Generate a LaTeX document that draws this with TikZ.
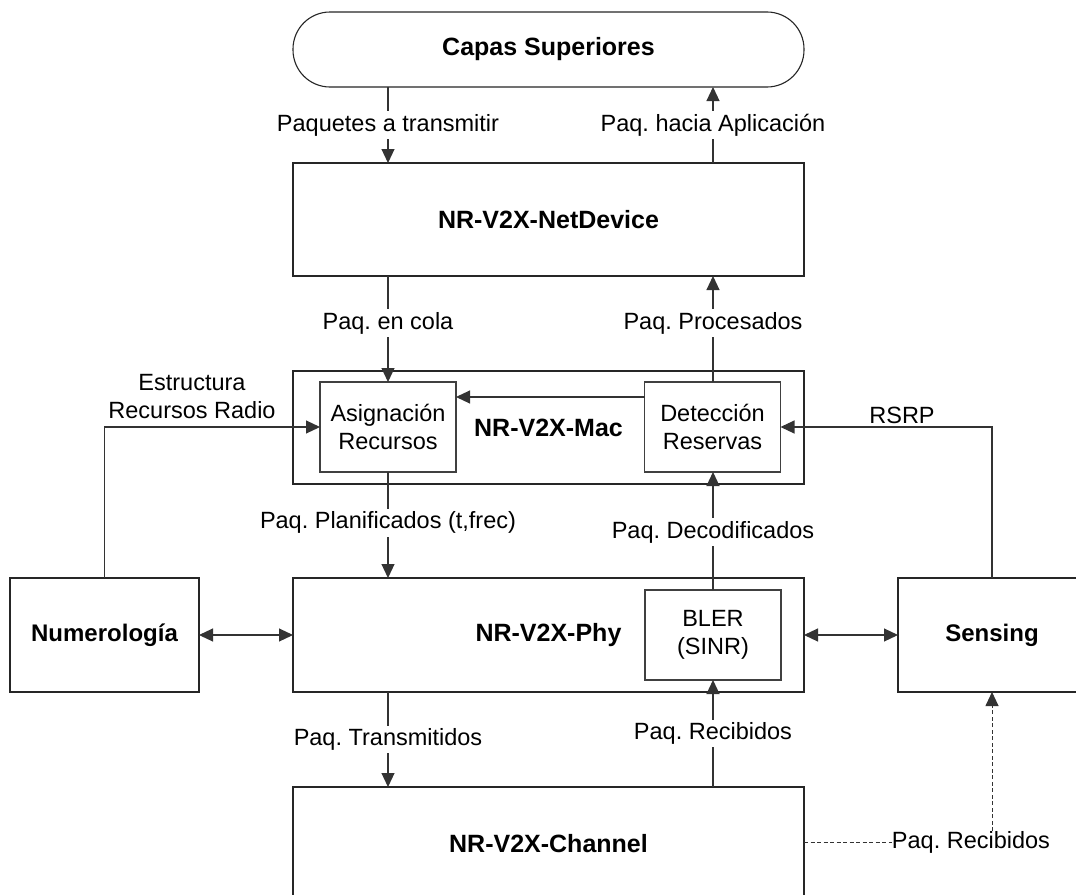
\documentclass[tikz,border=0pt]{standalone}
\usepackage{fontspec}
\setmainfont{Liberation Sans}
\usetikzlibrary{arrows.meta}
\begin{document}
\frenchspacing
\begin{tikzpicture}[x=1pt,y=-1pt,
  every node/.style={inner sep=0pt, outer sep=0pt},
  blk/.style={draw=black!85, line width=1.1pt, fill=white, minimum width=511pt, minimum height=113pt,
    font=\bfseries\fontsize{25}{29}\selectfont},
  sideblk/.style={blk, minimum height=114pt, font=\bfseries\fontsize{24}{28}\selectfont},
  sub/.style={draw=black!75, line width=1.1pt, fill=white, minimum width=136pt, minimum height=90pt,
    align=center, font=\fontsize{23.5}{28}\selectfont},
  conn/.style={draw=black!80, line width=1.1pt},
  tip/.style={-{Triangle[length=14pt,width=13pt]}},
  arr/.style={conn, tip},
  darr/.style={conn, {Triangle[length=14pt,width=13pt]}-{Triangle[length=14pt,width=13pt]}},
  lbl/.style={fill=white, inner sep=3pt, align=center, font=\fontsize{23.5}{28}\selectfont},
  plain/.style={align=center, font=\fontsize{23.5}{28}\selectfont},
  dsh/.style={conn, line width=0.9pt, dash pattern=on 4pt off 2.5pt}
]
\path[use as bounding box] (0,0) rectangle (1076,894);
\clip (0,0) rectangle (1076,894);

% layer blocks
\node[blk, rounded corners=37pt, minimum height=75pt] (capas) at (548.5,49.5) {Capas Superiores};
\node[blk] (net) at (548.5,219.5) {NR-V2X-NetDevice};
\node[blk] (mac) at (548.5,427.5) {NR-V2X-Mac};
\node[sub] (asig) at (388,427) {Asignación\\Recursos};
\node[sub] (det) at (712.5,427) {Detección\\Reservas};
\node[blk, minimum height=114pt] (phy) at (548.5,635) {NR-V2X-Phy};
\node[sub] (bler) at (713,635) {BLER\\(SINR)};
\node[blk] (chan) at (548.5,843.5) {NR-V2X-Channel};
\node[sideblk, minimum width=189pt] (num) at (104.5,635) {Numerología};
\node[sideblk, minimum width=188pt] (sens) at (992,635) {Sensing};

% column guides for the vertical flows
\coordinate (lc) at (388,0);
\coordinate (rc) at (713,0);

% downward flow
\draw[arr] (capas.south -| lc) -- node[lbl] {Paquetes a transmitir} (net.north -| lc);
\draw[arr] (net.south -| lc) -- node[lbl, pos=0.443] {Paq. en cola} (asig.north);
\draw[arr] (asig.south) -- node[lbl, pos=0.48] {Paq. Planificados (t,frec)} (phy.north -| lc);
\draw[arr] (phy.south -| lc) -- node[lbl] {Paq. Transmitidos} (chan.north -| lc);

% upward flow
\draw[arr] (chan.north -| rc) -- node[lbl] {Paq. Recibidos} (bler.south);
\draw[arr] (bler.north) -- node[lbl, pos=0.49] {Paq. Decodificados} (det.south -| rc);
\draw[arr] (det.north -| rc) -- node[lbl, pos=0.557] {Paq. Procesados} (net.south -| rc);
\draw[arr] (net.north -| rc) -- node[lbl] {Paq. hacia Aplicación} (capas.south -| rc);

% inside the MAC
\draw[arr] ([yshift=30pt]det.west) -- ([yshift=30pt]asig.east);

% side blocks
\node[plain] (estr) at (192,397) {Estructura\\Recursos Radio};
\draw[arr] (num.north) |- (asig.west);
\node[plain] (rsrp) at (902,415) {RSRP};
\draw[arr] (sens.north) |- (det.east);
\draw[darr] (num.east) -- (phy.west);
\draw[darr] (phy.east) -- (sens.west);

% received packets towards sensing
\node[plain] (recv) at (971,842) {Paq. Recibidos};
\draw[dsh] (chan.east |- recv.west) -- (recv.west);
\draw[dsh, tip] (recv.north -| sens) -- (sens.south);
\end{tikzpicture}
\end{document}
